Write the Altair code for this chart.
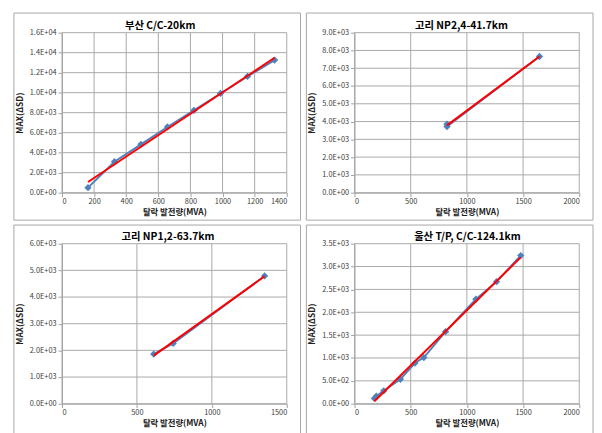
import altair as alt
import pandas as pd

# ---- data ----
titles = ["부산 C/C-20km", "고리 NP2,4-41.7km", "고리 NP1,2-63.7km", "울산 T/P, C/C-124.1km"]

p1_x = [162, 327, 492, 657, 822, 987, 1155, 1324]
p1_y = [500, 3090, 4830, 6570, 8240, 9920, 11620, 13260]

p2_x = [823, 823, 1646]
p2_y = [3850, 3720, 7660]

p3_x = [612, 742, 1352]
p3_y = [1860, 2260, 4790]

p4_x = [177, 194, 260, 408, 538, 617, 810, 1080, 1264, 1479]
p4_y = [115, 165, 282, 535, 890, 1010, 1575, 2285, 2670, 3240]

p1_xticks = [0, 200, 400, 600, 800, 1000, 1200, 1400]
p1_yticks = [0, 2000, 4000, 6000, 8000, 10000, 12000, 14000, 16000]
p2_xticks = [0, 500, 1000, 1500, 2000]
p2_yticks = [0, 1000, 2000, 3000, 4000, 5000, 6000, 7000, 8000, 9000]
p3_xticks = [0, 500, 1000, 1500]
p3_yticks = [0, 1000, 2000, 3000, 4000, 5000, 6000]
p4_xticks = [0, 500, 1000, 1500, 2000]
p4_yticks = [0, 500, 1000, 1500, 2000, 2500, 3000, 3500]

x_title = "탈락 발전량(MVA)"
y_title = "MAX(ΔSD)"

W = 229
H = 163
BORDER = "#a6a6a6"
GRID = "#a8a8a8"
FONT = "Noto Sans CJK KR"
AXC = "#a0a0a0"


def panel(title, xs, ys, xticks, yticks, top_row, title_x):
    df = pd.DataFrame({"x": xs, "y": ys})
    xax = alt.Axis(values=xticks, format="d", grid=False, labelOverlap=False,
                   domainColor=AXC, tickColor=AXC, tickSize=4,
                   labelFont=FONT, labelFontSize=7.5, labelColor="#404040", labelPadding=1,
                   titleFont=FONT, titleFontSize=8.5, titleFontWeight="bold",
                   titleColor="#202020", titlePadding=3)
    yax = alt.Axis(values=yticks, grid=False, labelOverlap=False,
                   labelExpr="replace(format(datum.value, '.1e'), 'e+', 'E+0')",
                   domainColor=AXC, tickColor=AXC, tickSize=4,
                   labelFont=FONT, labelFontSize=7.5, labelColor="#404040", labelPadding=2,
                   titleFont=FONT, titleFontSize=8.5, titleFontWeight="bold",
                   titleColor="#202020", titlePadding=5)
    xsc = alt.Scale(domain=[xticks[0], xticks[-1]], nice=False, zero=True)
    ysc = alt.Scale(domain=[yticks[0], yticks[-1]], nice=False, zero=True)
    xenc = alt.X("x:Q", title=x_title, scale=xsc, axis=xax)
    yenc = alt.Y("y:Q", title=y_title, scale=ysc, axis=yax)

    gx = alt.Chart(pd.DataFrame({"x": xticks})).mark_rule(color=GRID, strokeWidth=1).encode(
        x=xenc)
    gy = alt.Chart(pd.DataFrame({"y": yticks})).mark_rule(color=GRID, strokeWidth=1).encode(
        y=yenc)

    base = alt.Chart(df)
    blue = base.mark_line(color="#4F81BD", strokeWidth=2).encode(x=xenc, y=yenc)
    pts = base.mark_point(shape="diamond", size=55, filled=True, color="#4F81BD",
                          opacity=1).encode(x=xenc, y=yenc)
    red = base.transform_regression("x", "y").mark_line(color="#FF0000", strokeWidth=2).encode(
        x=xenc, y=yenc)
    one = alt.Chart(pd.DataFrame({"b": [0]}))
    top = -20 if top_row else -19
    bottom = H + 28 if top_row else H + 40
    frame = one.mark_rect(fill="transparent", stroke=BORDER, strokeWidth=1).encode(
        x=alt.value(-49), x2=alt.value(W + 14), y=alt.value(top), y2=alt.value(bottom))
    ttl = one.mark_text(text=title, font=FONT, fontSize=10.5, fontWeight="bold",
                        color="#000000", align="center", baseline="middle").encode(
        x=alt.value(title_x), y=alt.value(-7))
    return alt.layer(gx, gy, blue, pts, red, ttl, frame).properties(width=W, height=H)


c1 = panel(titles[0], p1_x, p1_y, p1_xticks, p1_yticks, True, 100)
c2 = panel(titles[1], p2_x, p2_y, p2_xticks, p2_yticks, True, 109)
c3 = panel(titles[2], p3_x, p3_y, p3_xticks, p3_yticks, False, 108)
c4 = panel(titles[3], p4_x, p4_y, p4_xticks, p4_yticks, False, 115)

chart = alt.vconcat(
    alt.hconcat(c1, c2, spacing=4),
    alt.hconcat(c3, c4, spacing=4),
    spacing=3,
).properties(
    padding={"left": 5, "top": 0, "right": 0, "bottom": 0}
).configure_view(stroke=None)

chart.save("out.html", embed_options={"renderer": "svg", "actions": False})
